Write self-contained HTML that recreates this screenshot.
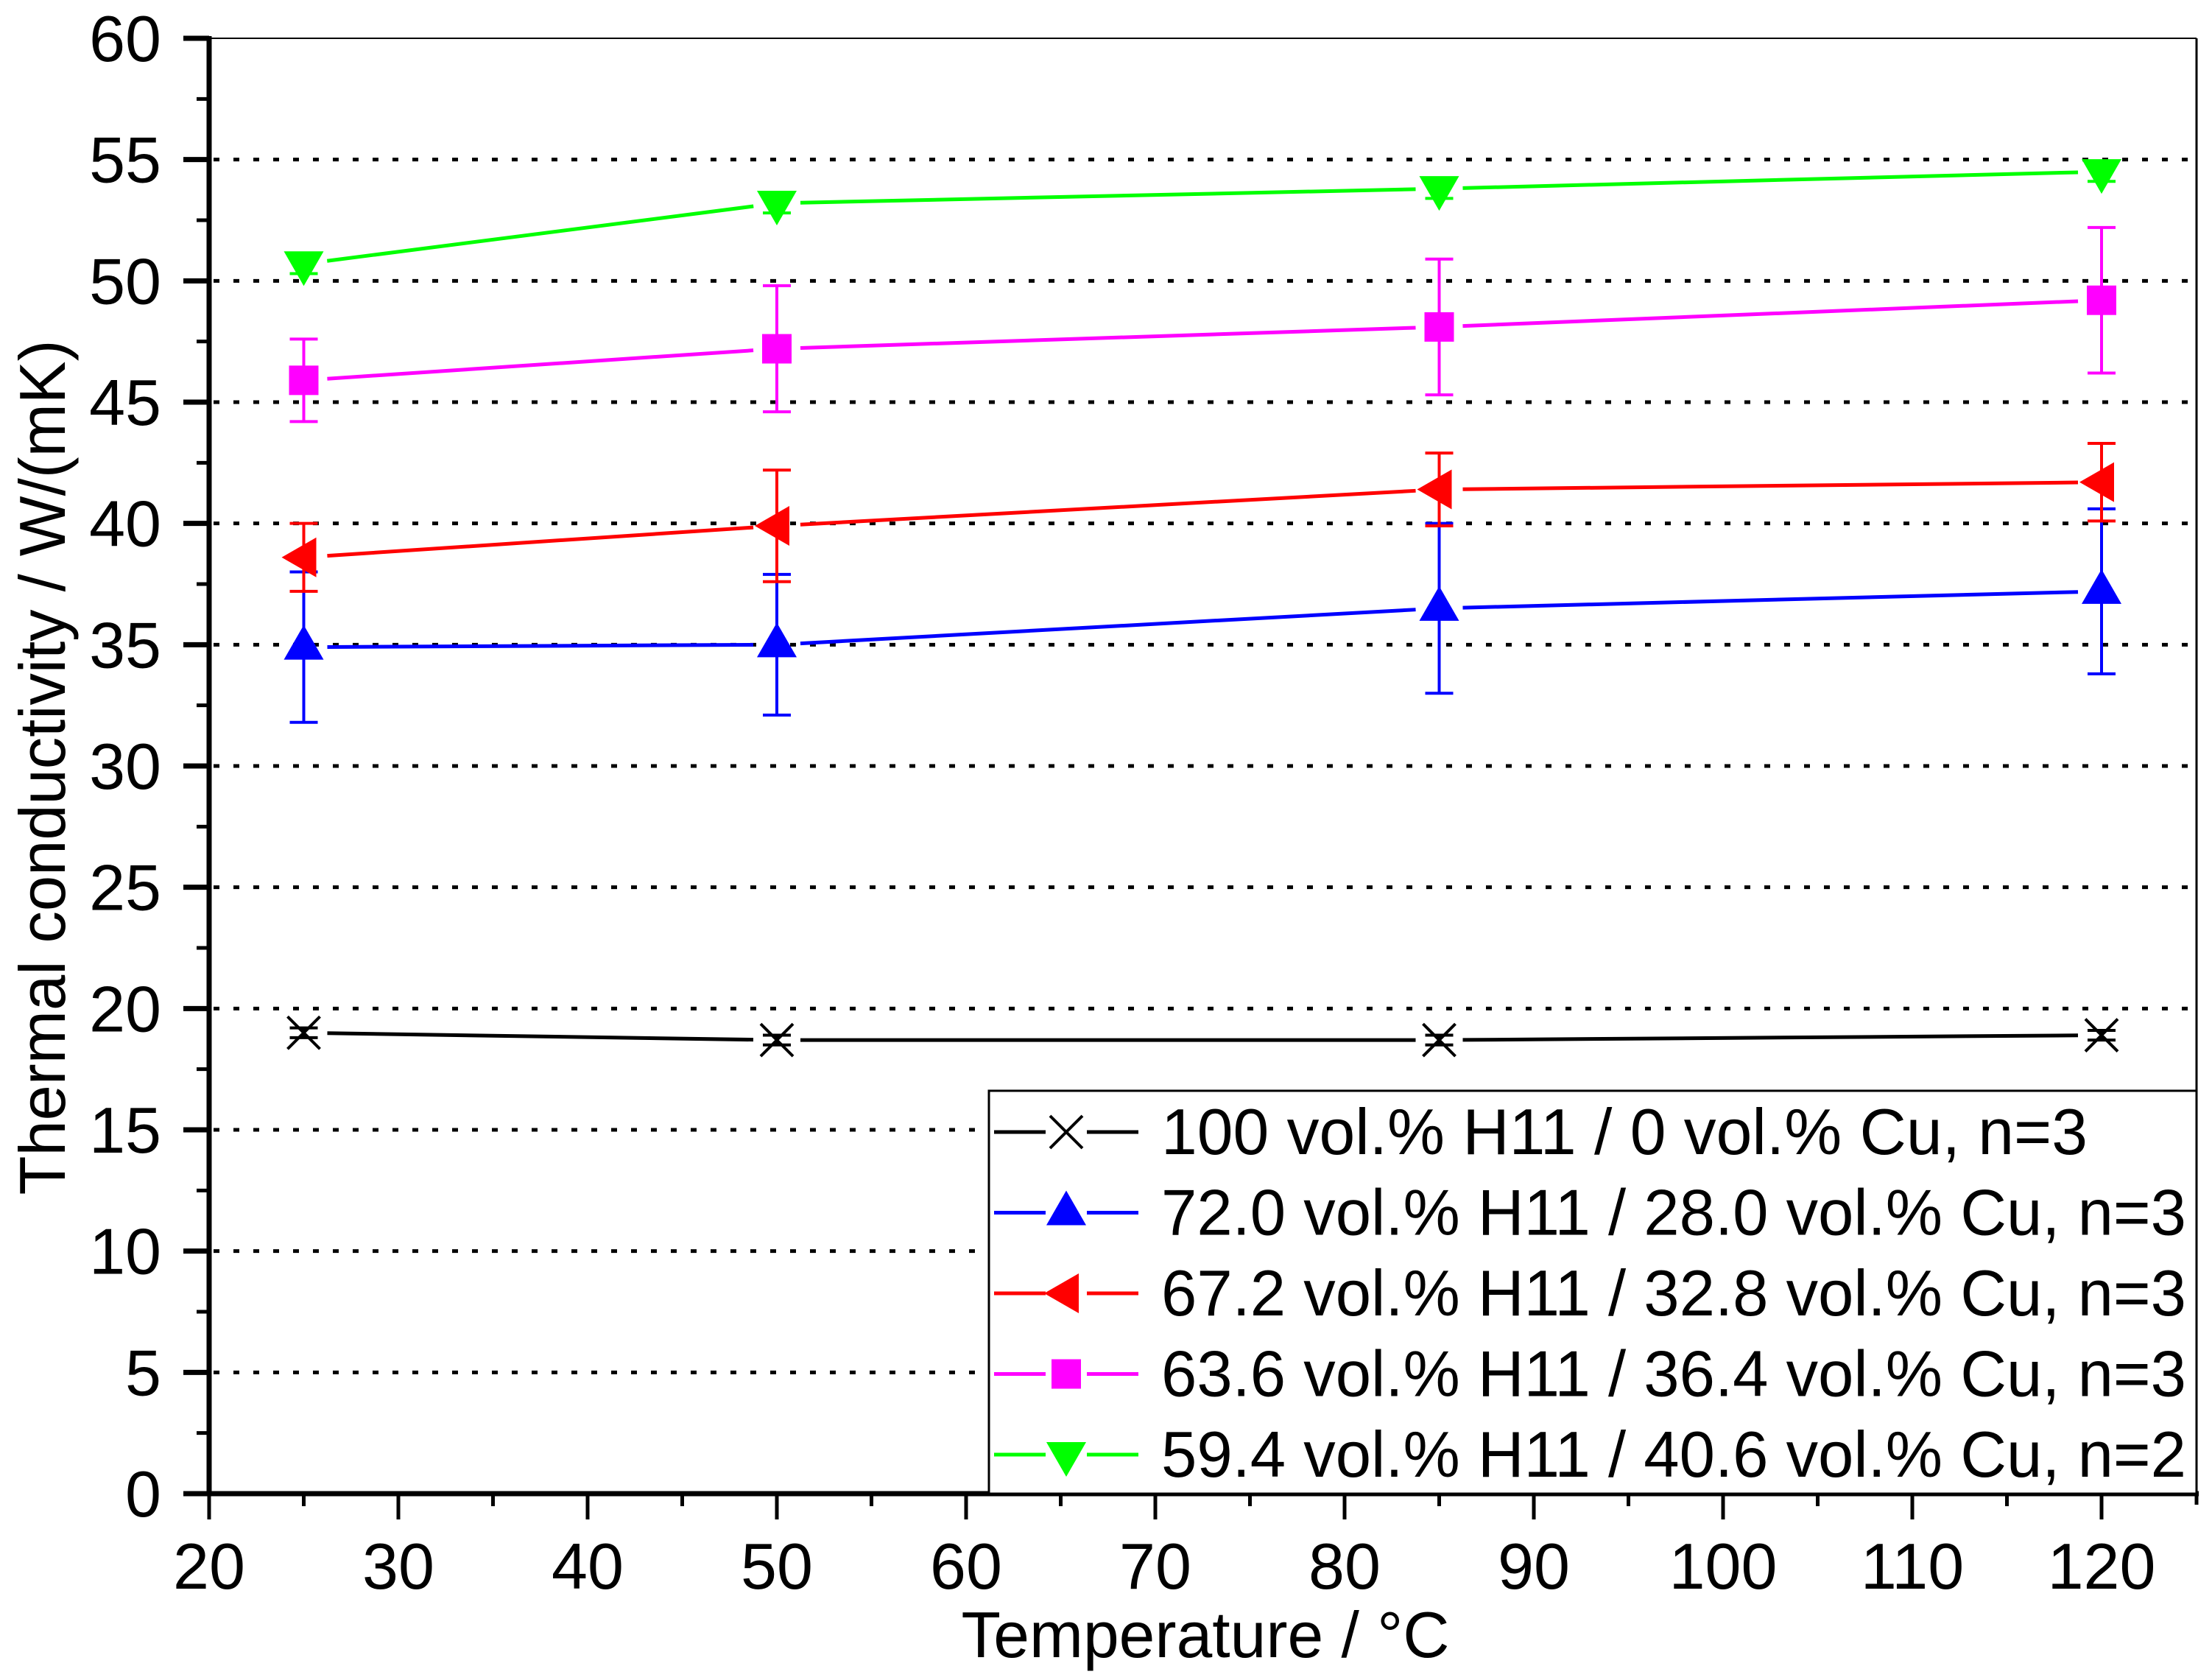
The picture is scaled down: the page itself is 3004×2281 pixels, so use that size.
<!DOCTYPE html>
<html><head><meta charset="utf-8"><style>
html,body{margin:0;padding:0;background:#fff;}
svg{display:block;font-family:"Liberation Sans",Arial,sans-serif;}
</style></head><body>
<svg id="chart" width="3004" height="2281" viewBox="0 0 3004 2281" xmlns="http://www.w3.org/2000/svg">
<g id="grid"></g>
<g id="series"></g>
<g id="axes"></g>
<g id="legend"></g>
<text x="1637" y="2250" font-size="88" text-anchor="middle" textLength="663" lengthAdjust="spacingAndGlyphs">Temperature / °C</text>
<text transform="translate(88,1042) rotate(-90)" font-size="88" text-anchor="middle" textLength="1161" lengthAdjust="spacingAndGlyphs">Thermal conductivity / W/(mK)</text>
</svg>
<script>
const temps = [25, 50, 85, 120];
const seriesNames = ["100 vol.% H11 / 0 vol.% Cu, n=3","72.0 vol.% H11 / 28.0 vol.% Cu, n=3","67.2 vol.% H11 / 32.8 vol.% Cu, n=3","63.6 vol.% H11 / 36.4 vol.% Cu, n=3","59.4 vol.% H11 / 40.6 vol.% Cu, n=2"];
const h11 = [19.0, 18.7, 18.7, 18.9];
const h11Err = [0.2, 0.2, 0.2, 0.2];
const cu28 = [34.9, 35.0, 36.5, 37.2];
const cu28Err = [3.1, 2.9, 3.5, 3.4];
const cu33 = [38.6, 39.9, 41.4, 41.7];
const cu33Err = [1.4, 2.3, 1.5, 1.6];
const cu36 = [45.9, 47.2, 48.1, 49.2];
const cu36Err = [1.7, 2.6, 2.8, 3.0];
const cu41 = [50.7, 53.2, 53.8, 54.5];
const cu41Err = [0.4, 0.4, 0.4, 0.4];
const xTicks = [20,30,40,50,60,70,80,90,100,110,120];
const yTicks = [0,5,10,15,20,25,30,35,40,45,50,55,60];

const NS="http://www.w3.org/2000/svg";
const X0=284, X1=2983, Y0=2028, Y1=52;
const sx=v=>X0+(v-20)*(2854-284)/100;
const sy=v=>Y0-(v-0)*(Y0-Y1)/60;
function mk(tag,attrs,parent){const e=document.createElementNS(NS,tag);for(const k in attrs)e.setAttribute(k,attrs[k]);parent.appendChild(e);return e;}
const grid=document.getElementById('grid'),ser=document.getElementById('series'),axes=document.getElementById('axes'),leg=document.getElementById('legend');

yTicks.forEach(t=>{ if(t>0&&t<60){
  const l=mk('line',{x1:X0+6,x2:X1,y1:sy(t),y2:sy(t),stroke:'#000','stroke-width':5,'stroke-dasharray':'8 19'},grid);
  
  
}});

const colors=['#000','#0000ff','#ff0000','#ff00ff','#00ff00'];
const shapes=['x','up','left','square','down'];
const data=[h11,cu28,cu33,cu36,cu41];
const errs=[h11Err,cu28Err,cu33Err,cu36Err,cu41Err];

function marker(shape,cx,cy,col,parent){
  let e;
  if(shape==='x'){e=mk('path',{d:`M${cx-22},${cy-22}L${cx+22},${cy+22}M${cx-22},${cy+22}L${cx+22},${cy-22}`,stroke:col,'stroke-width':4,fill:'none'},parent);}
  else if(shape==='up'){e=mk('polygon',{points:`${cx},${cy-30} ${cx-27},${cy+17} ${cx+27},${cy+17}`,fill:col},parent);}
  else if(shape==='down'){e=mk('polygon',{points:`${cx},${cy+30} ${cx-27},${cy-17} ${cx+27},${cy-17}`,fill:col},parent);}
  else if(shape==='left'){e=mk('polygon',{points:`${cx-30},${cy} ${cx+17},${cy-27} ${cx+17},${cy+27}`,fill:col},parent);}
  else {e=mk('rect',{x:cx-20,y:cy-20,width:40,height:40,fill:col},parent);}
  return e;
}

data.forEach((vals,si)=>{
  const g=mk('g',{},ser);
  
  
  const col=colors[si];
  for(let i=0;i<vals.length-1;i++){
    const xa=sx(temps[i]),ya=sy(vals[i]),xb=sx(temps[i+1]),yb=sy(vals[i+1]);
    const d=Math.hypot(xb-xa,yb-ya),ux=(xb-xa)/d,uy=(yb-ya)/d,gp=32;
    const l=mk('line',{x1:xa+ux*gp,y1:ya+uy*gp,x2:xb-ux*gp,y2:yb-uy*gp,stroke:col,'stroke-width':5},g);
    
    
  }
  vals.forEach((v,i)=>{
    const cx=sx(temps[i]),e=errs[si][i];
    const eb=mk('path',{d:`M${cx},${sy(v+e)}L${cx},${sy(v-e)}M${cx-19},${sy(v+e)}L${cx+19},${sy(v+e)}M${cx-19},${sy(v-e)}L${cx+19},${sy(v-e)}`,stroke:col,'stroke-width':4,fill:'none'},g);
    
    
    const m=marker(shapes[si],cx,sy(v),col,g);
    
    
  });
});

// axes frame
mk('line',{x1:X0,x2:X1,y1:Y1,y2:Y1,stroke:'#000','stroke-width':2},axes);
mk('line',{x1:X1,x2:X1,y1:Y1,y2:Y0,stroke:'#000','stroke-width':3},axes);
const ya=mk('line',{x1:X0,x2:X0,y1:Y1-3,y2:Y0+3,stroke:'#000','stroke-width':7},axes);


const xa=mk('line',{x1:X0-15,x2:X1+3,y1:Y0,y2:Y0,stroke:'#000','stroke-width':7},axes);


mk('line',{x1:X1,x2:X1,y1:Y0,y2:Y0+15,stroke:'#000','stroke-width':5},axes);

yTicks.forEach(t=>{
  mk('line',{x1:X0-35,x2:X0,y1:sy(t),y2:sy(t),stroke:'#000','stroke-width':7},axes);
  if(t<60) mk('line',{x1:X0-17,x2:X0,y1:sy(t+2.5),y2:sy(t+2.5),stroke:'#000','stroke-width':5},axes);
  const tx=mk('text',{x:219,y:sy(t)+31,'font-size':88,'text-anchor':'end'},axes);
  tx.textContent=t;
  
  
});
xTicks.forEach(t=>{
  mk('line',{x1:sx(t),x2:sx(t),y1:Y0,y2:Y0+35,stroke:'#000','stroke-width':5},axes);
  if(t<120) mk('line',{x1:sx(t+5),x2:sx(t+5),y1:Y0,y2:Y0+17,stroke:'#000','stroke-width':5},axes);
  const tx=mk('text',{x:sx(t),y:2157,'font-size':88,'text-anchor':'middle'},axes);
  tx.textContent=t;
  
  
});

// legend
const lb=mk('rect',{x:1343,y:1481,width:1640,height:547,fill:'#fff',stroke:'#000','stroke-width':3},leg);


seriesNames.forEach((n,i)=>{
  const cy=1537+i*109.5;
  const g=mk('g',{},leg);
  
  
  mk('line',{x1:1350,x2:1420,y1:cy,y2:cy,stroke:colors[i],'stroke-width':5},g);
  mk('line',{x1:1476,x2:1546,y1:cy,y2:cy,stroke:colors[i],'stroke-width':5},g);
  marker(shapes[i],1448,cy,colors[i],g);
  const tx=mk('text',{x:1577,y:cy+30,'font-size':88,textLength:(i===0?1258:1392),lengthAdjust:'spacingAndGlyphs'},g);
  tx.textContent=n;
});
</script>
</body></html>
